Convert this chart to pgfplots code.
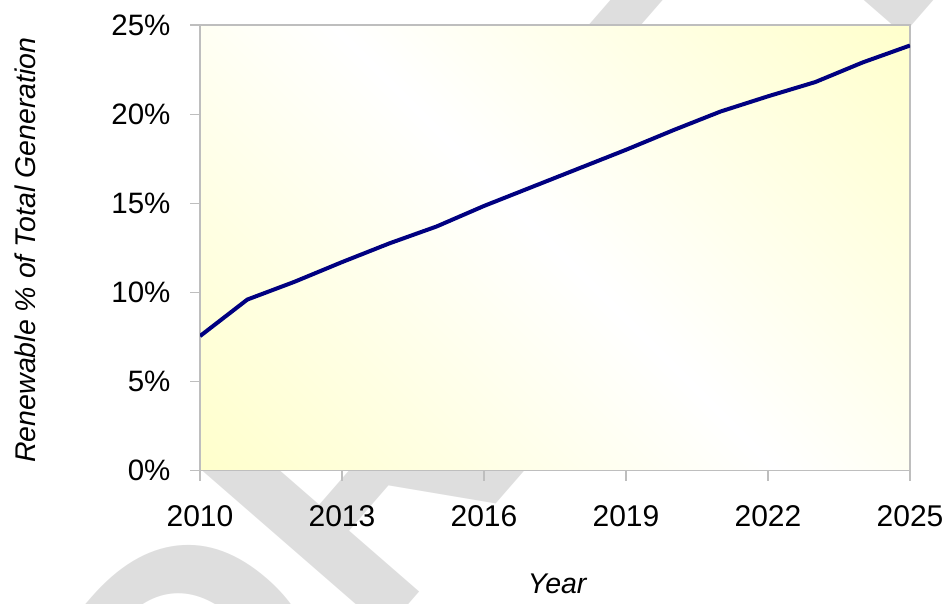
\documentclass[border=0pt]{standalone}
\usepackage{pgfplots}
\pgfplotsset{compat=1.18}
\usepackage{fontspec}
\setmainfont{Liberation Sans}
\definecolor{yel}{RGB}{255,255,200}
\definecolor{navyline}{RGB}{0,0,128}
\definecolor{axgray}{RGB}{190,190,190}
\definecolor{wm}{RGB}{222,222,222}
\pgfdeclarehorizontalshading{diagyel}{100bp}{color(0bp)=(yel); color(12bp)=(yel); color(50bp)=(white); color(88bp)=(yel); color(100bp)=(yel)}
\begin{document}
\begin{tikzpicture}
\useasboundingbox (0,0) rectangle (947pt,603pt);
\node[rotate=49, text=wm, font={\fontsize{355}{355}\bfseries\selectfont}] at (505pt,295pt) {DRAFT};
\begin{axis}[
  at={(200pt,132.3pt)}, anchor=south west,
  scale only axis, width=710pt, height=445.7pt,
  xmin=2010, xmax=2025, ymin=0, ymax=25,
  xtick={2010,2013,...,2025}, ytick={0,5,...,25},
  tick pos=left, tick align=outside, major tick length=10pt,
  every tick/.style={axgray, line width=1.2pt},
  axis line style={axgray, line width=1.3pt},
  axis background/.style={shading=diagyel, shading angle=45},
  /pgf/number format/assume math mode=true,
  xticklabel style={/pgf/number format/1000 sep={}, font=\fontsize{30}{35}\selectfont, yshift=-21pt},
  yticklabel style={font=\fontsize{29.5}{35}\selectfont, xshift=-16pt},
  yticklabel={\pgfmathprintnumber{\tick}\%},
  xlabel={Year}, ylabel={Renewable \% of Total Generation},
  label style={font=\fontsize{28.5}{33}\itshape\selectfont},
  xlabel style={at={(axis description cs:0.503,-0.254)}, anchor=center},
  ylabel style={at={(axis description cs:-0.2465,0.495)}, anchor=center},
]
\addplot[navyline, line width=4pt] coordinates {
(2010,7.55) (2011,9.6) (2012,10.6) (2013,11.7) (2014,12.75) (2015,13.7)
(2016,14.85) (2017,15.9) (2018,16.95) (2019,18.0) (2020,19.1) (2021,20.15)
(2022,21.0) (2023,21.8) (2024,22.9) (2025,23.85)
};
\end{axis}
\end{tikzpicture}
\end{document}
